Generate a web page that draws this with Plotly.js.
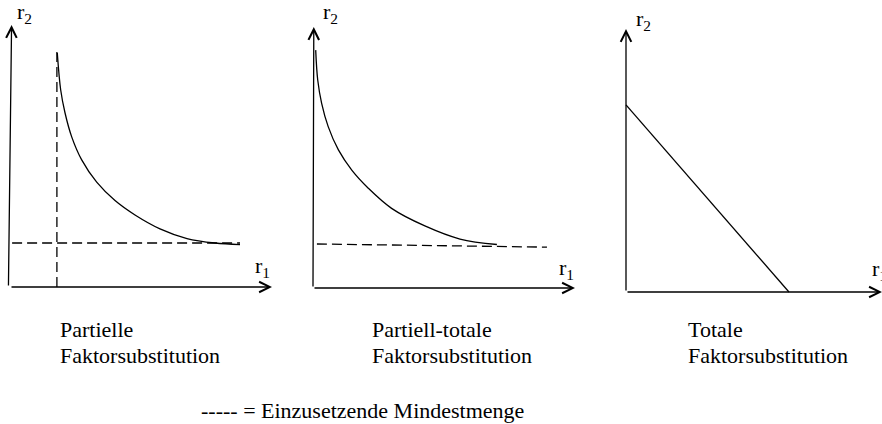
<!DOCTYPE html>
<html><head><meta charset="utf-8">
<script src="https://cdn.plot.ly/plotly-3.0.1.min.js"></script>
<style>html,body{margin:0;padding:0;background:#fff}</style>
</head><body><div id="chart" style="width:882px;height:424px"></div>
<script>
// ---- data (abstract units: r1 along x, r2 along y; 0..100 per panel) ----
const p1CurveR1 = [18.05, 19.35, 20.99, 23.55, 27.37, 33.09, 40.08, 47.71, 57.25, 67.56, 78.24, 87.79];
const p1CurveR2 = [89.3, 75.2, 66.5, 57.3, 48.5, 40.0, 33.0, 27.5, 22.2, 18.5, 16.8, 16.2];
const p1VDashR1 = [17.9, 17.9];
const p1VDashR2 = [0, 89.7];
const p1HDashR1 = [0.8, 87.8];
const p1HDashR2 = [16.8, 16.8];

const p2CurveR1 = [1.03, 1.8, 3.3, 5.8, 9.7, 14.8, 21.1, 30.0, 42.7, 56.1, 70.2];
const p2CurveR2 = [90.8, 79.4, 70.5, 61.6, 52.7, 45.0, 38.1, 30.4, 23.7, 18.7, 16.6];
const p2HDashR1 = [1.5, 89.3];
const p2HDashR2 = [16.8, 15.6];

const p3LineR1 = [0, 62.2];
const p3LineR2 = [71.4, 0];

const axisLabelX = 'r<sub>1</sub>';
const axisLabelY = 'r<sub>2</sub>';
const captionLine1 = ['Partielle', 'Partiell-totale', 'Totale'];
const captionLine2 = ['Faktorsubstitution', 'Faktorsubstitution', 'Faktorsubstitution'];
const legendText = '----- = Einzusetzende Mindestmenge';

// ---- layout helpers ----
const W = 882, H = 424, S = 2.62;
const FAMILY = '"Liberation Serif", "Times New Roman", Times, serif';
function font() { return {family: FAMILY, size: 22, color: '#000'}; }
function dom(ox, oy, xr, yr) {
  return {
    x: [Math.max(0, (ox + xr[0] * S) / W), Math.min(1, (ox + xr[1] * S) / W)],
    y: [(H - (oy - yr[0] * S)) / H, Math.min(1, (H - (oy - yr[1] * S)) / H)]
  };
}
const panels = [
  {ox: 10, oy: 287, xr: [-3.5, 103], yr: [-4, 103], xTip: 100, yTip: 100, yTail: -0.6, yHead: 0.6},
  {ox: 313, oy: 288, xr: [-4, 103], yr: [-4, 103], xTip: 100, yTip: 99.6, yTail: 0, yHead: 0.3},
  {ox: 626, oy: 292, xr: [-4, 97.7], yr: [-4, 103], xTip: 97.7, yTip: 100.4, yTail: 0, yHead: 0}
];

const line = {color: '#000', width: 1.3};
const dash = {color: '#000', width: 1.3, dash: '10px,5px'};
const curve = {color: '#000', width: 1.3, shape: 'spline', smoothing: 1};
const traces = [
  {x: p1CurveR1, y: p1CurveR2, xaxis: 'x', yaxis: 'y', mode: 'lines', line: curve},
  {x: p1VDashR1, y: p1VDashR2, xaxis: 'x', yaxis: 'y', mode: 'lines', line: dash},
  {x: p1HDashR1, y: p1HDashR2, xaxis: 'x', yaxis: 'y', mode: 'lines', line: dash},
  {x: p2CurveR1, y: p2CurveR2, xaxis: 'x2', yaxis: 'y2', mode: 'lines', line: curve},
  {x: p2HDashR1, y: p2HDashR2, xaxis: 'x2', yaxis: 'y2', mode: 'lines', line: dash},
  {x: p3LineR1, y: p3LineR2, xaxis: 'x3', yaxis: 'y3', mode: 'lines', line: line}
];

const layout = {
  width: W, height: H, margin: {l: 0, r: 0, t: 0, b: 0},
  paper_bgcolor: '#fff', plot_bgcolor: '#fff', showlegend: false,
  font: font(), annotations: []
};
panels.forEach((p, i) => {
  const d = dom(p.ox, p.oy, p.xr, p.yr);
  const sx = i === 0 ? '' : String(i + 1);
  layout['xaxis' + sx] = {domain: d.x, range: p.xr, visible: false, fixedrange: true, anchor: 'y' + sx};
  layout['yaxis' + sx] = {domain: d.y, range: p.yr, visible: false, fixedrange: true, anchor: 'x' + sx};
  const arrow = {xref: 'x' + sx, yref: 'y' + sx, axref: 'x' + sx, ayref: 'y' + sx, text: '',
    showarrow: true, arrowhead: 5, arrowsize: 1.6, arrowwidth: 1.3, arrowcolor: '#000', standoff: 0};
  layout.annotations.push(Object.assign({}, arrow, {x: p.xTip, y: 0, ax: 0, ay: 0}));
  layout.annotations.push(Object.assign({}, arrow, {x: p.yHead, y: p.yTip, ax: p.yTail, ay: 0}));
});
function txt(text, x, y) {
  return {xref: 'paper', yref: 'paper', x: x / W, y: 1 - y / H, xanchor: 'left', yanchor: 'middle',
    text: text, showarrow: false, font: font(), align: 'left'};
}
// axis labels
[[15, 13], [321, 13], [634, 20]].forEach(p => layout.annotations.push(txt(axisLabelY, p[0], p[1])));
[[253, 267], [557, 269], [870, 270]].forEach(p => layout.annotations.push(txt(axisLabelX, p[0], p[1])));
// captions
const capX = [58, 370, 686];
capX.forEach((x, i) => {
  layout.annotations.push(txt(captionLine1[i], x, 329));
  layout.annotations.push(txt(captionLine2[i], x, 355));
});
layout.annotations.push(txt(legendText, 199, 410));

Plotly.newPlot('chart', traces, layout, {staticPlot: true, displayModeBar: false});
</script></body></html>
